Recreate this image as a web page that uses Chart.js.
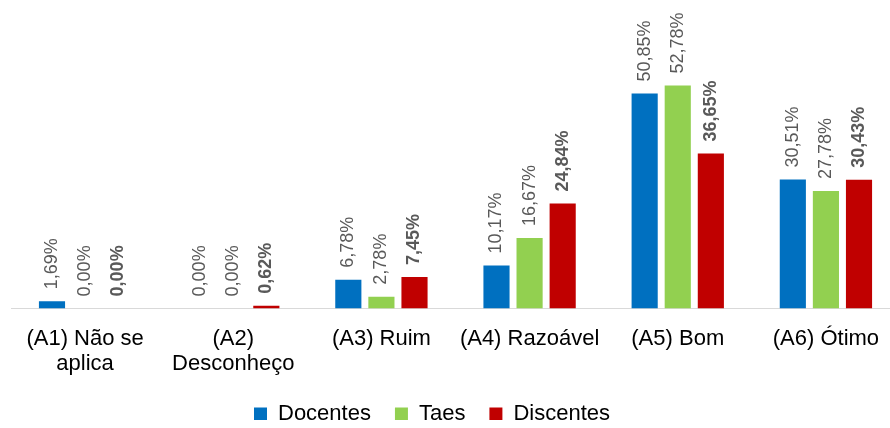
<!DOCTYPE html>
<html>
<head>
<meta charset="utf-8">
<script src="https://cdn.jsdelivr.net/npm/chart.js@4"></script>
<style>
  body { margin: 0; background: #fff; overflow: hidden; }
  #wrap { width: 900px; height: 428px; }
</style>
</head>
<body>
<div id="wrap"><canvas id="myBarChart"></canvas></div>
<script>
const categories = [['(A1) Não se', 'aplica'], ['(A2)', 'Desconheço'], '(A3) Ruim', '(A4) Razoável', '(A5) Bom', '(A6) Ótimo'];
const docentes = [1.69, 0.00, 6.78, 10.17, 50.85, 30.51];
const taes = [0.00, 0.00, 2.78, 16.67, 52.78, 27.78];
const discentes = [0.00, 0.62, 7.45, 24.84, 36.65, 30.43];

const FONT = '"Liberation Sans", Arial, sans-serif';

// rótulos verticais acima das barras
const valueLabels = {
    id: 'valueLabels',
    afterDatasetsDraw(chart) {
        const ctx = chart.ctx;
        chart.data.datasets.forEach((ds, i) => {
            const meta = chart.getDatasetMeta(i);
            meta.data.forEach((bar, j) => {
                const text = ds.data[j].toFixed(2).replace('.', ',') + '%';
                ctx.save();
                ctx.translate(bar.x, bar.y - 12);
                ctx.rotate(-Math.PI / 2);
                ctx.font = (ds.label === 'Discentes' ? 'bold ' : '') + '18px ' + FONT;
                ctx.fillStyle = '#595959';
                ctx.textAlign = 'left';
                ctx.textBaseline = 'middle';
                ctx.fillText(text, 0, 0);
                ctx.restore();
            });
        });
    }
};

// ajustes da legenda: menos altura e um pouco à esquerda do centro
const legendTweak = {
    id: 'legendTweak',
    beforeLayout(chart) {
        const lg = chart.legend;
        if (lg && !lg._patched) {
            const fit = lg.fit.bind(lg);
            lg.fit = function () { fit(); this.height -= 15; };
            lg._patched = true;
        }
    },
    beforeDraw(chart) {
        const lg = chart.legend;
        if (!lg) return;
        lg.left = 0;
        lg.right = 864;
        lg.width = 864;
        lg.top = chart.height - lg.height - 8;
        lg.bottom = lg.top + lg.height;
    }
};

function initializeBarChart() {
    const ctx = document.getElementById('myBarChart').getContext('2d');
    new Chart(ctx, {
        type: 'bar',
        data: {
            labels: categories,
            datasets: [
                { label: 'Docentes', data: docentes, backgroundColor: '#0070c0' },
                { label: 'Taes', data: taes, backgroundColor: '#92d050' },
                { label: 'Discentes', data: discentes, backgroundColor: '#c00000' }
            ]
        },
        options: {
            responsive: true,
            maintainAspectRatio: false,
            animation: false,
            categoryPercentage: 0.67,
            barPercentage: 0.79,
            layout: { padding: { left: 11, right: 0, top: 0, bottom: 0 } },
            plugins: {
                tooltip: { enabled: false },
                legend: {
                    position: 'bottom',
                    labels: {
                        boxWidth: 13,
                        boxHeight: 13,
                        padding: 24,
                        color: '#000',
                        font: { family: FONT, size: 22 }
                    }
                }
            },
            scales: {
                x: {
                    grid: { display: false },
                    border: { display: true, color: '#d9d9d9', width: 1 },
                    ticks: {
                        color: '#000',
                        maxRotation: 0,
                        autoSkip: false,
                        padding: 10,
                        font: { family: FONT, size: 22, lineHeight: 1.15 }
                    }
                },
                y: {
                    display: false,
                    min: 0,
                    max: 73
                }
            }
        },
        plugins: [valueLabels, legendTweak]
    });
}

window.onload = initializeBarChart;
</script>
</body>
</html>
